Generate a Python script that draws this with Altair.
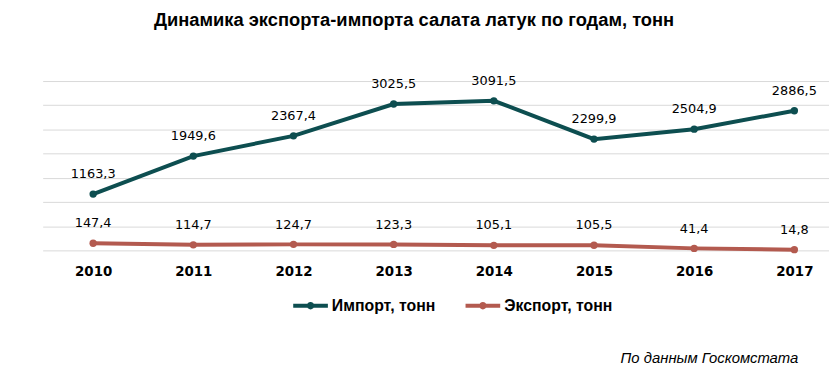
import altair as alt
import pandas as pd

years = [2010, 2011, 2012, 2013, 2014, 2015, 2016, 2017]
import_vals = [1163.3, 1949.6, 2367.4, 3025.5, 3091.5, 2299.9, 2504.9, 2886.5]
export_vals = [147.4, 114.7, 124.7, 123.3, 105.1, 105.5, 41.4, 14.8]
series_names = ["Импорт, тонн", "Экспорт, тонн"]
series_colors = ["#0d4e50", "#b35a4f"]
title_text = "Динамика экспорта-импорта салата латук по годам, тонн"
source_text = "По данным Госкомстата"

rows = []
for name, vals in zip(series_names, [import_vals, export_vals]):
    for y, v in zip(years, vals):
        rows.append({"year": y, "value": v, "series": name,
                     "label": f"{v:.1f}".replace(".", ",")})
df = pd.DataFrame(rows)

x = alt.X("year:Q",
          scale=alt.Scale(domain=[2009.496, 2017.346], nice=False, zero=False),
          axis=alt.Axis(values=years, format="d", title=None, grid=False, ticks=False,
                        domain=False, labelFont="DejaVu Sans", labelFontWeight="bold",
                        labelFontSize=13.5, labelColor="#000", labelPadding=14,
                        labelFlush=False))
y = alt.Y("value:Q",
          scale=alt.Scale(domain=[0, 3500], nice=False),
          axis=alt.Axis(values=[0, 500, 1000, 1500, 2000, 2500, 3000, 3500], title=None,
                        labels=False, ticks=False, domain=False, grid=True,
                        gridColor="#d9d9d9", gridWidth=1))
color = alt.Color("series:N",
                  scale=alt.Scale(domain=series_names, range=series_colors),
                  legend=alt.Legend(title=None, orient="none", direction="horizontal",
                                    legendX=251, legendY=207,
                                    symbolType="M-1,0L1,0M-0.1,0A0.1,0.1,0,1,1,0.1,0A0.1,0.1,0,1,1,-0.1,0",
                                    symbolSize=1225, symbolStrokeWidth=4,
                                    labelFont="Liberation Sans", labelFontWeight="bold",
                                    labelFontSize=16, labelColor="#000", labelOffset=2,
                                    columnPadding=22, padding=0))

base = alt.Chart(df)
lines = base.mark_line(strokeWidth=4).encode(x=x, y=y, color=color)
points = base.mark_point(filled=True, size=55, opacity=1).encode(
    x=x, y=y, color=alt.Color("series:N", scale=alt.Scale(domain=series_names, range=series_colors), legend=None))
labels = base.mark_text(font="DejaVu Sans", fontSize=13, dy=-20, color="#000",
                        baseline="middle").encode(x=x, y=y, text="label:N")

title = alt.Chart(pd.DataFrame({"t": [title_text]})).mark_text(
    font="Liberation Sans", fontWeight="bold", fontSize=18.5, color="#000",
    align="center", baseline="middle").encode(
    x=alt.value(375), y=alt.value(-62), text="t:N")
source = alt.Chart(pd.DataFrame({"t": [source_text]})).mark_text(
    font="Liberation Sans", fontStyle="italic", fontSize=15, color="#000",
    align="right", baseline="middle").encode(
    x=alt.value(763), y=alt.value(280), text="t:N")

chart = alt.layer(lines, points, labels, title, source).properties(
    width=794, height=171,
    autosize=alt.AutoSizeParams(type="none"),
    padding={"left": 35, "top": 72, "right": 0, "bottom": 117},
).configure_view(stroke=None)

chart.save("out.html", embed_options={"renderer": "svg", "actions": False})
